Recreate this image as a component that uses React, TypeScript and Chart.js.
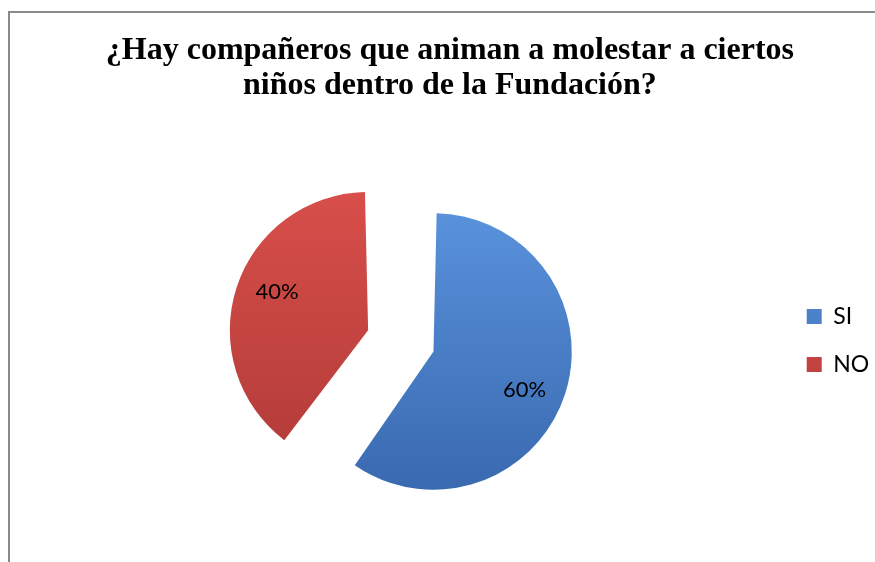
import React, { useEffect, useRef } from 'react';
import { Chart, registerables } from 'chart.js';

Chart.register(...registerables);

const categories = ['SI', 'NO'];
const values = [60, 40];
const titleLines = [
  '¿Hay compañeros que animan a molestar a ciertos',
  'niños dentro de la Fundación?',
];

const sliceTop = ['#5a93dd', '#d94f4b'];
const sliceBottom = ['#3868ae', '#b03a37'];
const sliceOffsets = [80.2, 194.6];

const percentLabels = {
  id: 'percentLabels',
  afterDatasetsDraw(chart: any) {
    const meta = chart.getDatasetMeta(0);
    const data = chart.data.datasets[0].data as number[];
    const total = data.reduce((a, b) => a + b, 0);
    const ctx = chart.ctx;
    ctx.save();
    ctx.fillStyle = '#000';
    ctx.font = "22px Lato, 'Open Sans', sans-serif";
    ctx.textAlign = 'center';
    ctx.textBaseline = 'middle';
    meta.data.forEach((el: any, i: number) => {
      const { x, y, startAngle, endAngle, outerRadius } = el.getProps(
        ['x', 'y', 'startAngle', 'endAngle', 'outerRadius'],
        true
      );
      const off = (el.options.offset || 0) / 4;
      const mid = (startAngle + endAngle) / 2;
      const circ = endAngle - startAngle;
      const fix = 1 - Math.sin(Math.min(Math.PI, circ));
      const r = outerRadius + off * fix;
      const cx = x + Math.cos(mid) * off;
      const cy = y + Math.sin(mid) * off;
      const a = mid + (5 * Math.PI) / 180;
      const lx = cx + Math.cos(a) * r * 0.715;
      const ly = cy + Math.sin(a) * r * 0.715;
      ctx.fillText(Math.round((data[i] / total) * 100) + '%', lx, ly);
    });
    ctx.restore();
  },
};

// let the legend text run past the narrow legend box without being clipped
const legendRoom = {
  id: 'legendRoom',
  afterLayout(chart: any) {
    if (chart.legend) chart.legend.right = chart.width;
  },
};

export default function App() {
  const canvasRef = useRef<HTMLCanvasElement | null>(null);

  useEffect(() => {
    if (!canvasRef.current) return;
    const fill = (c: any) => {
      const i = c.dataIndex;
      const chart = c.chart;
      const area = chart.chartArea;
      if (!area) return sliceTop[i];
      const cy = (area.top + area.bottom) / 2;
      const g = chart.ctx.createLinearGradient(0, cy - 150, 0, cy + 150);
      g.addColorStop(0, sliceTop[i]);
      g.addColorStop(1, sliceBottom[i]);
      return g;
    };
    const chart = new Chart(canvasRef.current, {
      type: 'pie',
      data: {
        labels: categories,
        datasets: [
          {
            data: values,
            backgroundColor: fill,
            borderWidth: 0,
            offset: sliceOffsets,
            hoverOffset: 0,
          } as any,
        ],
      },
      options: {
        animation: false,
        responsive: true,
        maintainAspectRatio: false,
        radius: 118.25,
        events: [],
        layout: { padding: { left: 37.1, right: 22.3, top: 0, bottom: 0 } },
        plugins: {
          title: {
            display: true,
            text: titleLines,
            color: '#000',
            font: {
              family: "'Liberation Serif', 'Times New Roman', serif",
              size: 32,
              weight: 'bold',
              lineHeight: 35 / 32,
            },
            padding: { top: 20.7, bottom: 24.9 },
          },
          legend: {
            position: 'right',
            fullSize: true,
            maxWidth: 71,
            title: {
              display: true,
              text: '',
              padding: { top: 91.4, bottom: 0 },
              font: { size: 12, lineHeight: 1.2 },
            },
            labels: {
              boxWidth: 15,
              boxHeight: 15,
              padding: 25,
              color: '#000',
              font: { family: "Lato, 'Open Sans', sans-serif", size: 23 },
            },
          },
          tooltip: { enabled: false },
        },
      } as any,
      plugins: [percentLabels, legendRoom],
    });
    return () => chart.destroy();
  }, []);

  return (
    <div
      style={{
        position: 'fixed',
        left: 8,
        top: 11,
        width: 867,
        height: 551,
        boxSizing: 'border-box',
        borderLeft: '2px solid #8a8a8a',
        borderTop: '2px solid #8a8a8a',
        background: '#fff',
        overflow: 'hidden',
      }}
    >
      <div style={{ position: 'relative', width: 865, height: 549 }}>
        <canvas ref={canvasRef} />
      </div>
    </div>
  );
}
